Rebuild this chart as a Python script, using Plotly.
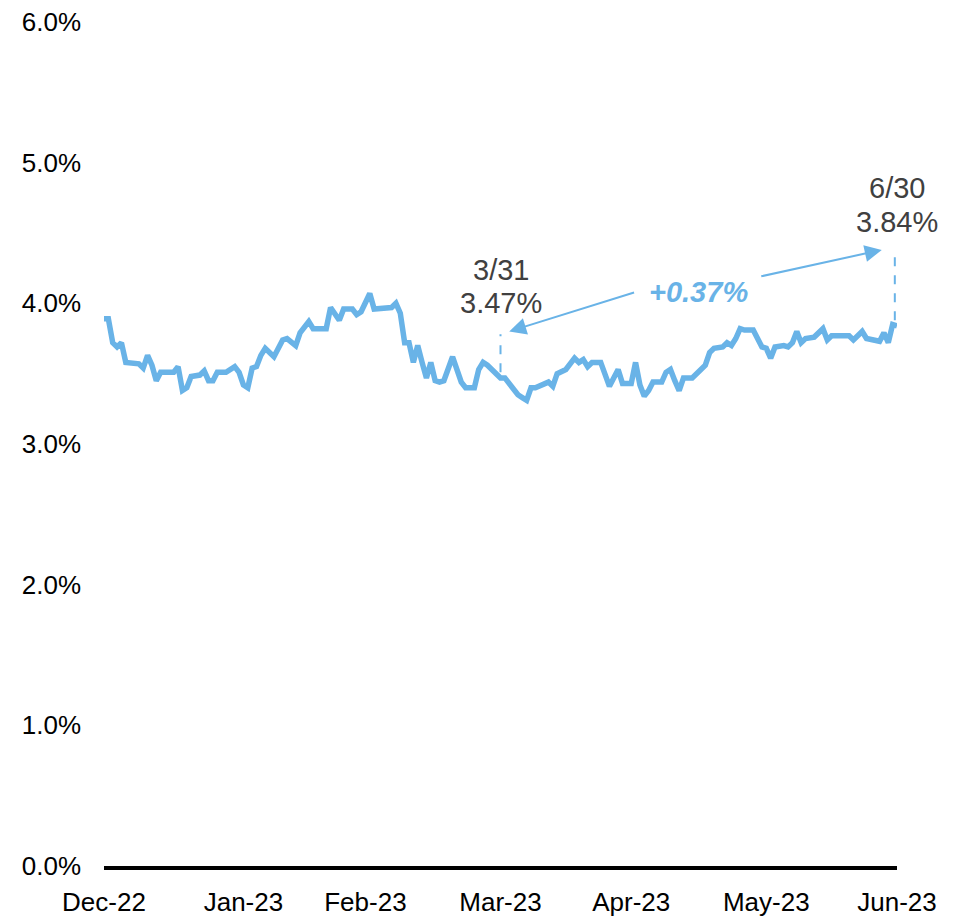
import plotly.graph_objects as go

dates = [
    "2022-12-30", "2022-12-31", "2023-01-01", "2023-01-02", "2023-01-03", "2023-01-04",
    "2023-01-07", "2023-01-08", "2023-01-09", "2023-01-10", "2023-01-11", "2023-01-12",
    "2023-01-15", "2023-01-16", "2023-01-17", "2023-01-18", "2023-01-19", "2023-01-21",
    "2023-01-22", "2023-01-23", "2023-01-24", "2023-01-25", "2023-01-27", "2023-01-29",
    "2023-01-30", "2023-01-31", "2023-02-01", "2023-02-02", "2023-02-03", "2023-02-04",
    "2023-02-05", "2023-02-07", "2023-02-09", "2023-02-10", "2023-02-12", "2023-02-13",
    "2023-02-15", "2023-02-16", "2023-02-19", "2023-02-20", "2023-02-22", "2023-02-23",
    "2023-02-25", "2023-02-26", "2023-02-27", "2023-03-01", "2023-03-02", "2023-03-06",
    "2023-03-07", "2023-03-08", "2023-03-09", "2023-03-10", "2023-03-11", "2023-03-12",
    "2023-03-13", "2023-03-14", "2023-03-15", "2023-03-16", "2023-03-17", "2023-03-18",
    "2023-03-20", "2023-03-21", "2023-03-22", "2023-03-23", "2023-03-25", "2023-03-26",
    "2023-03-27", "2023-03-28", "2023-03-29", "2023-03-31", "2023-04-01", "2023-04-04",
    "2023-04-05", "2023-04-06", "2023-04-07", "2023-04-08", "2023-04-11", "2023-04-12",
    "2023-04-13", "2023-04-15", "2023-04-17", "2023-04-18", "2023-04-19", "2023-04-20",
    "2023-04-21", "2023-04-23", "2023-04-25", "2023-04-27", "2023-04-28", "2023-04-30",
    "2023-05-01", "2023-05-02", "2023-05-03", "2023-05-04", "2023-05-05", "2023-05-07",
    "2023-05-08", "2023-05-09", "2023-05-10", "2023-05-11", "2023-05-12", "2023-05-14",
    "2023-05-15", "2023-05-17", "2023-05-18", "2023-05-19", "2023-05-21", "2023-05-22",
    "2023-05-23", "2023-05-24", "2023-05-25", "2023-05-26", "2023-05-28", "2023-05-30",
    "2023-05-31", "2023-06-01", "2023-06-02", "2023-06-04", "2023-06-05", "2023-06-06",
    "2023-06-07", "2023-06-08", "2023-06-09", "2023-06-11", "2023-06-13", "2023-06-14",
    "2023-06-15", "2023-06-19", "2023-06-20", "2023-06-22", "2023-06-23", "2023-06-26",
    "2023-06-27", "2023-06-28", "2023-06-29", "2023-06-30",
]

yields = [
    3.89, 3.89, 3.72, 3.69, 3.72, 3.58,
    3.57, 3.54, 3.63, 3.56, 3.45, 3.51,
    3.51, 3.55, 3.38, 3.40, 3.48, 3.49,
    3.52, 3.45, 3.45, 3.51, 3.51, 3.55,
    3.51, 3.42, 3.40, 3.54, 3.55, 3.63,
    3.68, 3.62, 3.74, 3.75, 3.70, 3.79,
    3.87, 3.82, 3.82, 3.97, 3.88, 3.96,
    3.96, 3.92, 3.94, 4.07, 3.96, 3.97,
    4.00, 3.93, 3.72, 3.72, 3.58, 3.70,
    3.58, 3.47, 3.58, 3.45, 3.44, 3.45,
    3.62, 3.53, 3.44, 3.40, 3.40, 3.53,
    3.58, 3.56, 3.53, 3.47, 3.47, 3.35,
    3.33, 3.31, 3.40, 3.40, 3.44, 3.41,
    3.50, 3.53, 3.61, 3.58, 3.60, 3.55,
    3.58, 3.58, 3.41, 3.53, 3.43, 3.43,
    3.58, 3.42, 3.34, 3.38, 3.44, 3.44,
    3.51, 3.53, 3.45, 3.38, 3.47, 3.47,
    3.50, 3.56, 3.65, 3.68, 3.69, 3.72,
    3.70, 3.75, 3.82, 3.81, 3.81, 3.69,
    3.68, 3.61, 3.69, 3.70, 3.69, 3.72,
    3.80, 3.72, 3.75, 3.76, 3.82, 3.74,
    3.77, 3.77, 3.74, 3.80, 3.75, 3.73,
    3.79, 3.72, 3.85, 3.84,
]

tick_dates = ["2022-12-30", "2023-01-31", "2023-02-28", "2023-03-31",
              "2023-04-30", "2023-05-31", "2023-06-30"]
tick_labels = ["Dec-22", "Jan-23", "Feb-23", "Mar-23", "Apr-23", "May-23", "Jun-23"]
y_ticks = [0, 1, 2, 3, 4, 5, 6]
y_labels = ["0.0%", "1.0%", "2.0%", "3.0%", "4.0%", "5.0%", "6.0%"]

start_date, start_value = "2023-03-31", "3.47%"
end_date, end_value = "2023-06-30", "3.84%"
start_text, end_text = "3/31", "6/30"
change_label = "+0.37%"

BLUE = "#69B3E7"
GREY = "#404040"
FONT = "Liberation Sans, Arial, sans-serif"

fig = go.Figure()
fig.add_trace(go.Scatter(x=dates, y=yields, mode="lines",
                         line=dict(color=BLUE, width=5.5), hoverinfo="skip"))

# dashed markers
fig.add_shape(type="line", x0=start_date, x1=start_date, y0=3.51, y1=3.78,
              xref="x", yref="y", line=dict(color=BLUE, width=2, dash="dash"))
fig.add_shape(type="line", x0="2023-06-29 12:00", x1="2023-06-29 12:00", y0=3.88, y1=4.38,
              xref="x", yref="y", line=dict(color=BLUE, width=2, dash="dash"))

# text labels
txt_font = dict(family=FONT, size=29, color=GREY)
fig.add_annotation(x=start_date, y=4.236, xref="x", yref="y", text=start_text,
                   showarrow=False, font=txt_font)
fig.add_annotation(x=start_date, y=4.001, xref="x", yref="y", text=start_value,
                   showarrow=False, font=txt_font)
fig.add_annotation(x=end_date, y=4.819, xref="x", yref="y", text=end_text,
                   showarrow=False, font=txt_font)
fig.add_annotation(x=end_date, y=4.577, xref="x", yref="y", text=end_value,
                   showarrow=False, font=txt_font)
fig.add_annotation(x="2023-05-15 12:00", y=4.08, xref="x", yref="y",
                   text="<b><i>" + change_label + "</i></b>", showarrow=False,
                   font=dict(family=FONT, size=29, color=BLUE))

# arrows
fig.add_annotation(x="2023-04-02", y=3.80, ax="2023-05-01", ay=4.08,
                   xref="x", yref="y", axref="x", ayref="y", text="",
                   showarrow=True, arrowhead=2, arrowsize=1.7, arrowwidth=2,
                   arrowcolor=BLUE)
fig.add_annotation(x="2023-06-26 12:00", y=4.38, ax="2023-05-29 12:00", ay=4.19,
                   xref="x", yref="y", axref="x", ayref="y", text="",
                   showarrow=True, arrowhead=2, arrowsize=1.7, arrowwidth=2,
                   arrowcolor=BLUE)

fig.update_layout(
    width=960, height=909,
    margin=dict(l=96, r=71, t=14, b=51, autoexpand=False),
    paper_bgcolor="white", plot_bgcolor="white",
    showlegend=False,
    font=dict(family=FONT, size=26, color="black"),
)
fig.update_xaxes(
    type="date", range=["2022-12-30", "2023-06-30"],
    tickvals=tick_dates, ticktext=tick_labels, automargin=False,
    showgrid=False, zeroline=False,
    showline=True, linecolor="black", linewidth=4,
    ticks="", ticklabelstandoff=10, ticklabeloverflow="allow",
    tickfont=dict(family=FONT, size=26, color="black"),
)
fig.update_yaxes(
    range=[0, 6], tickvals=y_ticks, ticktext=y_labels, automargin=False,
    showgrid=False, zeroline=False, showline=False,
    ticks="", ticklabelstandoff=22, ticklabeloverflow="allow",
    tickfont=dict(family=FONT, size=26, color="black"),
)

fig.write_html("out.html")
